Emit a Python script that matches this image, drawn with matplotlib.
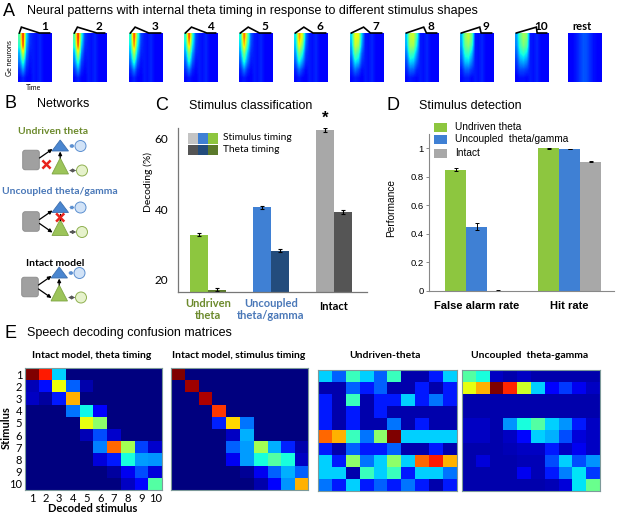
import matplotlib
matplotlib.use("Agg")
import matplotlib.pyplot as plt
import numpy as np
from matplotlib.patches import Polygon, Circle, FancyBboxPatch, Rectangle

W, H = 617, 516
ARIAL = "Liberation Sans"
CALIBRI = "Lato"

# ---------------- data ----------------
# A: neural response patterns (rows = neurons top->bottom, first 4 time bins), jet scale 0..1
pattern_labels = ["1", "2", "3", "4", "5", "6", "7", "8", "9", "10", "rest"]
hot_bins = [
    [[0.45, 0.9, 0.35, 0.18], [0.4, 0.86, 0.3, 0.17], [0.3, 0.62, 0.25, 0.15], [0.25, 0.42, 0.2, 0.14], [0.18, 0.28, 0.16, 0.13], [0.13, 0.16, 0.13, 0.12]],
    [[0.45, 0.9, 0.4, 0.19], [0.4, 0.85, 0.34, 0.17], [0.3, 0.62, 0.26, 0.15], [0.25, 0.42, 0.2, 0.14], [0.18, 0.28, 0.16, 0.13], [0.13, 0.16, 0.13, 0.12]],
    [[0.4, 0.86, 0.45, 0.2], [0.36, 0.78, 0.38, 0.18], [0.3, 0.58, 0.3, 0.16], [0.24, 0.42, 0.22, 0.14], [0.17, 0.26, 0.16, 0.13], [0.13, 0.16, 0.13, 0.12]],
    [[0.4, 0.86, 0.42, 0.2], [0.35, 0.72, 0.36, 0.18], [0.28, 0.52, 0.28, 0.16], [0.22, 0.4, 0.22, 0.14], [0.17, 0.25, 0.16, 0.13], [0.13, 0.15, 0.13, 0.12]],
    [[0.38, 0.82, 0.5, 0.22], [0.34, 0.72, 0.42, 0.2], [0.28, 0.52, 0.32, 0.17], [0.22, 0.4, 0.25, 0.15], [0.16, 0.25, 0.17, 0.13], [0.13, 0.15, 0.13, 0.12]],
    [[0.36, 0.75, 0.6, 0.25], [0.32, 0.66, 0.5, 0.22], [0.27, 0.5, 0.38, 0.18], [0.22, 0.38, 0.28, 0.16], [0.16, 0.24, 0.18, 0.13], [0.13, 0.15, 0.13, 0.12]],
    [[0.34, 0.64, 0.62, 0.32], [0.3, 0.6, 0.55, 0.28], [0.26, 0.48, 0.42, 0.22], [0.2, 0.36, 0.32, 0.18], [0.16, 0.24, 0.2, 0.14], [0.13, 0.15, 0.14, 0.12]],
    [[0.32, 0.58, 0.6, 0.42], [0.3, 0.55, 0.55, 0.36], [0.25, 0.44, 0.42, 0.28], [0.2, 0.34, 0.32, 0.22], [0.16, 0.23, 0.22, 0.16], [0.13, 0.15, 0.14, 0.13]],
    [[0.3, 0.52, 0.58, 0.48], [0.28, 0.48, 0.52, 0.42], [0.24, 0.4, 0.42, 0.32], [0.2, 0.32, 0.33, 0.25], [0.15, 0.22, 0.22, 0.18], [0.13, 0.15, 0.15, 0.13]],
    [[0.28, 0.45, 0.55, 0.5], [0.26, 0.42, 0.5, 0.45], [0.22, 0.36, 0.4, 0.35], [0.18, 0.28, 0.3, 0.26], [0.15, 0.2, 0.2, 0.18], [0.12, 0.14, 0.14, 0.13]],
]
late_bins = [0.15, 0.14, 0.16, 0.13, 0.12, 0.12]
rest_profile = [0.12, 0.13, 0.15, 0.18, 0.21, 0.2, 0.17, 0.14, 0.13, 0.12]
# stimulus envelope: peak and end position (fraction of window)
shape_peak = [0.1, 0.13, 0.18, 0.22, 0.27, 0.29, 0.4, 0.55, 0.58, 0.63]
shape_end = [0.63, 0.7, 0.58, 0.67, 0.6, 0.56, 0.6, 0.63, 0.62, 0.65]

# C: stimulus classification (%)
c_groups = ["Undriven\ntheta", "Uncoupled\ntheta/gamma", "Intact"]
c_stim = [32.8, 40.5, 62.4]
c_stim_err = [0.5, 0.5, 0.5]
c_theta = [17.2, 28.2, 39.2]
c_theta_err = [0.4, 0.4, 0.5]

# D: stimulus detection
d_groups = ["False alarm rate", "Hit rate"]
d_series = ["Undriven theta", "Uncoupled  theta/gamma", "Intact"]
d_values = [[0.85, 1.0], [0.45, 0.995], [0.003, 0.905]]
d_err = [[0.01, 0.002], [0.025, 0.003], [0.003, 0.004]]

# E: confusion matrices
conf_theta = [
    [1.0, 0.88, 0.33, 0, 0, 0, 0, 0, 0, 0],
    [0.05, 0.14, 0.64, 0.22, 0.04, 0, 0, 0, 0, 0],
    [0.06, 0.03, 0.15, 0.72, 0, 0, 0, 0, 0, 0],
    [0, 0, 0, 0.24, 0.37, 0.12, 0, 0, 0, 0],
    [0, 0, 0, 0, 0.63, 0.52, 0, 0, 0, 0],
    [0, 0, 0, 0, 0.05, 0.2, 0.07, 0, 0, 0],
    [0, 0, 0, 0, 0, 0.25, 0.8, 0.55, 0.19, 0.07],
    [0, 0, 0, 0, 0, 0.08, 0.15, 0.38, 0.28, 0.27],
    [0, 0, 0, 0, 0, 0, 0.03, 0.1, 0.2, 0.08],
    [0, 0, 0, 0, 0, 0, 0, 0.06, 0.13, 0.45],
]
conf_stim = [
    [1.0, 0, 0, 0, 0, 0, 0, 0, 0, 0],
    [0, 0.97, 0, 0, 0, 0, 0, 0, 0, 0],
    [0, 0, 0.96, 0, 0, 0, 0, 0, 0, 0],
    [0, 0, 0, 0.85, 0, 0, 0, 0, 0, 0],
    [0, 0, 0, 0.16, 0.68, 0.24, 0, 0, 0, 0],
    [0, 0, 0, 0, 0.06, 0.3, 0, 0, 0, 0],
    [0, 0, 0, 0, 0.22, 0.28, 0.55, 0.3, 0.16, 0.04],
    [0, 0, 0, 0, 0.1, 0.28, 0.38, 0.45, 0.38, 0.06],
    [0, 0, 0, 0, 0, 0.02, 0.1, 0.22, 0.3, 0.22],
    [0, 0, 0, 0, 0, 0, 0.04, 0.12, 0.27, 0.72],
]
conf_undriven = [
    [0.33, 0.22, 0.42, 0.33, 0.22, 0.42, 0.04, 0.04, 0.15, 0.33],
    [0.04, 0.04, 0.22, 0.15, 0.22, 0.04, 0.04, 0.15, 0.04, 0.15],
    [0.15, 0.04, 0.42, 0.04, 0.15, 0.15, 0.33, 0.15, 0.24, 0.15],
    [0.15, 0.04, 0.15, 0.04, 0.15, 0.04, 0.04, 0.04, 0.04, 0.04],
    [0.15, 0.04, 0.15, 0.04, 0.04, 0.24, 0.04, 0.15, 0.04, 0.04],
    [0.8, 0.72, 0.42, 0.24, 0.52, 1.0, 0.33, 0.33, 0.33, 0.33],
    [0.15, 0.04, 0.22, 0.15, 0.15, 0.22, 0.04, 0.04, 0.15, 0.04],
    [0.33, 0.15, 0.52, 0.24, 0.33, 0.52, 0.33, 0.8, 0.88, 0.72],
    [0.33, 0.33, 0.04, 0.42, 0.33, 0.42, 0.15, 0.33, 0.33, 0.24],
    [0.24, 0.15, 0.33, 0.15, 0.22, 0.15, 0.24, 0.15, 0.04, 0.15],
]
conf_uncoupled = [
    [0.45, 0.38, 0.06, 0.04, 0.06, 0.04, 0.04, 0.04, 0.04, 0.04],
    [0.63, 0.72, 1.0, 0.87, 0.6, 0.33, 0.12, 0.18, 0.1, 0.06],
    [0.04, 0.04, 0.04, 0.04, 0.04, 0.04, 0.04, 0.04, 0.04, 0.04],
    [0.04, 0.04, 0.04, 0.04, 0.04, 0.04, 0.04, 0.04, 0.04, 0.04],
    [0.06, 0.06, 0.04, 0.27, 0.38, 0.45, 0.33, 0.27, 0.15, 0.06],
    [0.06, 0.06, 0.04, 0.06, 0.13, 0.33, 0.3, 0.2, 0.08, 0.06],
    [0.04, 0.04, 0.04, 0.05, 0.06, 0.06, 0.15, 0.06, 0.1, 0.06],
    [0.04, 0.08, 0.04, 0.04, 0.05, 0.05, 0.2, 0.33, 0.2, 0.27],
    [0.04, 0.04, 0.04, 0.04, 0.1, 0.05, 0.15, 0.25, 0.35, 0.18],
    [0.04, 0.04, 0.04, 0.04, 0.04, 0.04, 0.05, 0.08, 0.35, 0.48],
]
conf_titles = ["Intact model, theta timing", "Intact model, stimulus timing",
               "Undriven-theta", "Uncoupled  theta-gamma"]

# colours
GREEN, GREEN_D = "#8dc63f", "#5b7a2b"
BLUE, BLUE_D = "#3f80d4", "#234c7c"
GREY, GREY_D = "#a8a8a8", "#555555"
OLIVE = "#6c8a2c"
BLUE_TXT = "#4a78b8"


def box(x0, y0, x1, y1):
    return [x0 / W, 1 - y1 / H, (x1 - x0) / W, (y1 - y0) / H]


fig = plt.figure(figsize=(W / 100, H / 100), dpi=100)
ov = fig.add_axes([0, 0, 1, 1])
ov.set_xlim(0, W)
ov.set_ylim(H, 0)
ov.axis("off")

# ---------------- A ----------------
ov.text(3, 11, "A", fontsize=13, family=ARIAL, va="center")
ov.text(27, 11, "Neural patterns with internal theta timing in response to different stimulus shapes",
        fontsize=9, family=ARIAL, va="center")
img_left = [18, 73, 129, 184, 239, 294, 350, 405, 460, 515, 568]
for i, lab in enumerate(pattern_labels):
    ax = fig.add_axes(box(img_left[i], 33, img_left[i] + 34, 82))
    if lab == "rest":
        grid = np.tile(rest_profile, (6, 1))
    else:
        grid = np.array([row + late_bins for row in hot_bins[i]])
    ax.imshow(grid, cmap="jet", vmin=0, vmax=1, aspect="auto",
              interpolation="bilinear", extent=(0, 1, 0, 1))
    ax.set_xlim(0, 1)
    ax.set_ylim(0, 1)
    ax.axis("off")
    if lab != "rest":
        ax.plot([0.04, shape_peak[i], shape_end[i], 0.93], [1.0, 1.12, 1.0, 1.0],
                color="black", lw=1.2, clip_on=False, solid_joinstyle="miter")
        ax.text(0.77, 1.13, lab, transform=ax.transAxes, fontsize=8.5,
                family=CALIBRI, weight="bold", ha="center", va="center")
    else:
        ax.text(0.4, 1.13, lab, transform=ax.transAxes, fontsize=8,
                family=CALIBRI, weight="bold", ha="center", va="center")
ov.text(10, 58, "Ge neurons", fontsize=5, family=CALIBRI, rotation=90, ha="center", va="center")
ov.text(34, 87, "Time", fontsize=5, family=CALIBRI, ha="center", va="center")

# ---------------- B ----------------
ov.text(4, 104, "B", fontsize=13, family=ARIAL, va="center")
ov.text(63, 104, "Networks", fontsize=9, family=ARIAL, ha="center", va="center")


def arrow(x0, y0, x1, y1, color="black", both=False, lw=0.9):
    ov.annotate("", xy=(x1, y1), xytext=(x0, y0),
                arrowprops=dict(arrowstyle="<|-|>" if both else "-|>", color=color,
                                lw=lw, shrinkA=0, shrinkB=0, mutation_scale=5))


def red_x(cx, cy, s=3.2):
    ov.plot([cx - s, cx + s], [cy - s, cy + s], color="#e8231c", lw=1.8)
    ov.plot([cx - s, cx + s], [cy + s, cy - s], color="#e8231c", lw=1.8)


def network(sx, sy, cut):
    ov.add_patch(FancyBboxPatch((sx + 1, sy + 1), 15, 18, boxstyle="round,pad=0.8,rounding_size=2.5",
                                fc="#a0a0a0", ec="#8a8a8a", lw=0.6))
    ov.add_patch(Polygon([[sx + 29.5, sy + 1], [sx + 46, sy + 1], [sx + 37.7, sy - 10]],
                         fc="#4a86d0", ec="#3d6fae", lw=0.6))
    ov.add_patch(Polygon([[sx + 29.5, sy + 24], [sx + 46, sy + 24], [sx + 37.7, sy + 8]],
                         fc="#9cc45a", ec="#7fa544", lw=0.6))
    ov.add_patch(Circle((sx + 58, sy - 4), 5.5, fc="#d2e3f7", ec="#5b8fd0", lw=0.7))
    ov.add_patch(Circle((sx + 59.5, sy + 20.5), 5.5, fc="#e6f2cc", ec="#8fb050", lw=0.7))
    arrow(sx + 46.5, sy - 4, sx + 52.3, sy - 4, color="#5b8fd0", both=True, lw=0.7)
    arrow(sx + 46.5, sy + 20.5, sx + 53.8, sy + 20.5, color="#555555", both=True, lw=0.7)
    arrow(sx + 17, sy + 8, sx + 30, sy - 1)
    if cut == "drive":
        red_x(sx + 24, sy + 14.5)
    else:
        arrow(sx + 17, sy + 12, sx + 30, sy + 21)
    if cut == "coupling":
        ov.plot([sx + 37.7, sx + 37.7], [sy + 8, sy + 2], color="black", lw=0.9)
        red_x(sx + 37.7, sy + 6)
    else:
        arrow(sx + 37.7, sy + 8, sx + 37.7, sy + 1.5)


ov.text(53, 132, "Undriven theta", fontsize=7.5, family=CALIBRI, weight="bold",
        color=OLIVE, ha="center", va="center")
network(22.5, 150, "drive")
ov.text(60, 192, "Uncoupled theta/gamma", fontsize=7.5, family=CALIBRI, weight="bold",
        color=BLUE_TXT, ha="center", va="center")
network(22.5, 211.5, "coupling")
ov.text(55, 263, "Intact model", fontsize=7.5, family=CALIBRI, weight="bold",
        ha="center", va="center")
network(21.5, 277, None)

# ---------------- C ----------------
ov.text(155, 105, "C", fontsize=13, family=ARIAL, va="center")
ov.text(251, 106, "Stimulus classification", fontsize=9, family=ARIAL, ha="center", va="center")
axc = fig.add_axes(box(178, 128, 367, 292))
gx = np.arange(3) * 63 + 30
axc.bar(gx - 9, c_stim, width=18, color=[GREEN, BLUE, GREY], yerr=c_stim_err,
        error_kw=dict(lw=0.8, capsize=1.5, capthick=0.8))
axc.bar(gx + 9, c_theta, width=18, color=[GREEN_D, BLUE_D, GREY_D], yerr=c_theta_err,
        error_kw=dict(lw=0.8, capsize=1.5, capthick=0.8))
axc.set_xlim(0, 189)
axc.set_ylim(16.5, 63)
axc.set_yticks([20, 40, 60])
axc.set_xticks([])
axc.tick_params(axis="y", length=0, pad=7, labelsize=8.5)
for t in axc.get_yticklabels():
    t.set_family(CALIBRI)
for s in ["top", "right"]:
    axc.spines[s].set_visible(False)
for s in ["left", "bottom"]:
    axc.spines[s].set_color("#777777")
    axc.spines[s].set_linewidth(0.9)
axc.patch.set_alpha(0)
ov.text(148, 182, "Decoding (%)", fontsize=7.5, family=CALIBRI, rotation=90, ha="center", va="center")
axc.text(gx[2] - 9, 63.5, "*", fontsize=12, family=ARIAL, weight="bold", ha="center", va="bottom")
for k, (lab, col) in enumerate(zip(c_groups, [OLIVE, BLUE_TXT, "black"])):
    axc.text(gx[k], 14.9 if k < 2 else 13.9, lab, fontsize=8, family=CALIBRI, weight="bold",
             color=col, ha="center", va="top", linespacing=1.15)
for j, col in enumerate([GREY, BLUE, GREEN]):
    ov.add_patch(Rectangle((188 + 10 * j, 133), 10, 10.5, fc="#c4c4c4" if j == 0 else col, ec="none"))
for j, col in enumerate([GREY_D, BLUE_D, GREEN_D]):
    ov.add_patch(Rectangle((188 + 10 * j, 144.5), 10, 10.5, fc=col, ec="none"))
ov.text(223, 138, "Stimulus timing", fontsize=7.3, family=CALIBRI, va="center")
ov.text(223, 150, "Theta timing", fontsize=7.3, family=CALIBRI, va="center")

# ---------------- D ----------------
ov.text(386, 105, "D", fontsize=13, family=ARIAL, va="center")
ov.text(419, 106, "Stimulus detection", fontsize=9, family=ARIAL, va="center")
axd = fig.add_axes(box(429, 134, 614, 291))
dg = np.array([47.5, 140.5])
for k, col in enumerate([GREEN, BLUE, GREY]):
    axd.bar(dg + (k - 1) * 21, d_values[k], width=21, color=col, yerr=d_err[k],
            error_kw=dict(lw=0.7, capsize=1.2, capthick=0.7))
axd.set_xlim(0, 185)
axd.set_ylim(0, 1.1)
axd.set_yticks([0, 0.2, 0.4, 0.6, 0.8, 1.0])
axd.set_yticklabels(["0", "0.2", "0.4", "0.6", "0.8", "1"])
axd.set_xticks([])
axd.tick_params(axis="y", length=2, width=0.6, pad=2, labelsize=6.8, color="#777777")
for t in axd.get_yticklabels():
    t.set_family(ARIAL)
for s in ["top", "right"]:
    axd.spines[s].set_visible(False)
for s in ["left", "bottom"]:
    axd.spines[s].set_color("#888888")
    axd.spines[s].set_linewidth(0.8)
axd.patch.set_alpha(0)
ov.text(391, 208, "Performance", fontsize=7.3, family=ARIAL, rotation=90, ha="center", va="center")
for k, lab in enumerate(d_groups):
    axd.text(dg[k], -0.07, lab, fontsize=8, family=ARIAL, weight="bold", ha="center", va="top")
for k, (lab, col) in enumerate(zip(d_series, [GREEN, BLUE, GREY])):
    y = [127, 139.5, 153][k]
    ov.add_patch(Rectangle((434, y - 4.5), 13, 9, fc=col, ec="none"))
    ov.text(455, y, lab, fontsize=7.3, family=ARIAL, va="center")

# ---------------- E ----------------
ov.text(4, 333, "E", fontsize=13, family=ARIAL, va="center")
ov.text(27, 333, "Speech decoding confusion matrices", fontsize=9, family=ARIAL, va="center")
mat_boxes = [(25, 368, 162, 490), (171, 368, 308, 490), (318, 370, 457, 491), (462, 370, 600, 491)]
title_x = [92, 239, 385, 530]
for k, mat in enumerate([conf_theta, conf_stim, conf_undriven, conf_uncoupled]):
    ax = fig.add_axes(box(*mat_boxes[k]))
    ax.imshow(np.array(mat), cmap="jet", vmin=0, vmax=1, aspect="auto", interpolation="nearest")
    for s in ax.spines.values():
        s.set_color("#7d9a9a")
        s.set_linewidth(0.8)
    if k == 0:
        ax.set_xticks(range(10))
        ax.set_xticklabels([str(n) for n in range(1, 11)])
        ax.set_yticks(range(10))
        ax.set_yticklabels([str(n) for n in range(1, 11)])
        ax.tick_params(length=0, pad=2, labelsize=8)
        for t in ax.get_xticklabels() + ax.get_yticklabels():
            t.set_family(CALIBRI)
    else:
        ax.set_xticks([])
        ax.set_yticks([])
    ov.text(title_x[k], 356, conf_titles[k], fontsize=7.5, family=CALIBRI, weight="bold",
            ha="center", va="center")
ov.text(6, 428, "Stimulus", fontsize=8, family=CALIBRI, weight="bold", rotation=90,
        ha="center", va="center")
ov.text(93, 509, "Decoded stimulus", fontsize=8, family=CALIBRI, weight="bold",
        ha="center", va="center")

fig.savefig("out.png", dpi=100)
